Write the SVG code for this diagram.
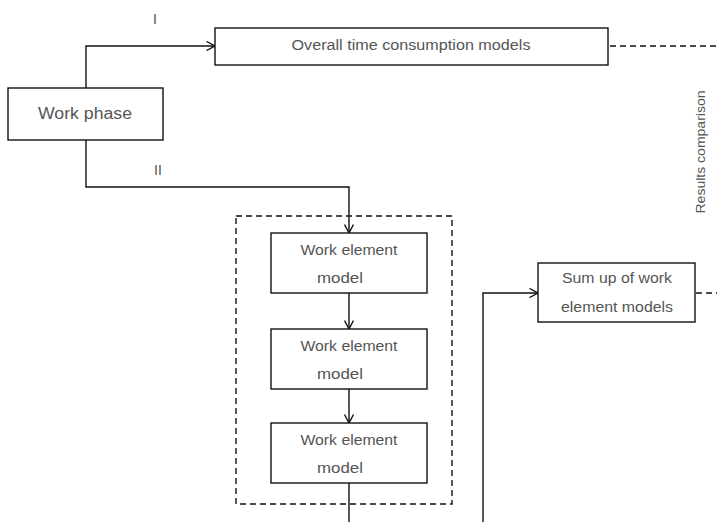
<svg xmlns="http://www.w3.org/2000/svg" width="717" height="522" viewBox="0 0 717 522">
<style>
.box{fill:#fff;stroke:#111;stroke-width:1.4}
.t{font-family:"Liberation Sans",Arial,sans-serif;fill:#555;text-anchor:middle}
.ln{fill:none;stroke:#111;stroke-width:1.4}
.ds{fill:none;stroke:#111;stroke-width:1.4;stroke-dasharray:6 4}
</style>
<defs>
<marker id="arr" viewBox="0 0 10 10" refX="9.5" refY="5" markerWidth="10" markerHeight="10" markerUnits="userSpaceOnUse" orient="auto">
<path d="M1,0.5 L9.5,5 L1,9.5" fill="none" stroke="#111" stroke-width="1.4"/>
</marker>
</defs>
<rect width="717" height="522" fill="#fff"/>
<g id="connectors">
<path class="ln" d="M86,88 V46 H215" marker-end="url(#arr)"/>
<path class="ln" d="M86,140 V187 H349 V233" marker-end="url(#arr)"/>
<path class="ln" d="M349,293 V329" marker-end="url(#arr)"/>
<path class="ln" d="M349,389 V423" marker-end="url(#arr)"/>
<path class="ln" d="M349,483 V522"/>
<path class="ln" d="M483,522 V293 H538" marker-end="url(#arr)"/>
<path class="ds" d="M610,46 H717"/>
<path class="ds" d="M696,293 H717"/>
<text class="t" x="155" y="24" font-size="14">I</text>
<text class="t" x="158" y="175" font-size="14">II</text>
<text class="t" x="0" y="0" font-size="13" transform="translate(705,152) rotate(-90)" textLength="123" lengthAdjust="spacingAndGlyphs">Results comparison</text>
</g>
<g id="group-box">
<rect class="ds" x="236" y="216" width="216" height="288"/>
</g>
<g id="work-phase">
<rect class="box" x="8" y="88" width="155" height="52"/>
<text class="t" x="85" y="119" font-size="16" textLength="94" lengthAdjust="spacingAndGlyphs">Work phase</text>
</g>
<g id="overall">
<rect class="box" x="215" y="28" width="393" height="37"/>
<text class="t" x="411" y="50" font-size="14" textLength="239" lengthAdjust="spacingAndGlyphs">Overall time consumption models</text>
</g>
<g id="element1">
<rect class="box" x="271" y="233" width="156" height="60"/>
<text class="t" x="349" y="255" font-size="14" textLength="97" lengthAdjust="spacingAndGlyphs">Work element</text>
<text class="t" x="340" y="283" font-size="14" textLength="46" lengthAdjust="spacingAndGlyphs">model</text>
</g>
<g id="element2">
<rect class="box" x="271" y="329" width="156" height="60"/>
<text class="t" x="349" y="351" font-size="14" textLength="97" lengthAdjust="spacingAndGlyphs">Work element</text>
<text class="t" x="340" y="379" font-size="14" textLength="46" lengthAdjust="spacingAndGlyphs">model</text>
</g>
<g id="element3">
<rect class="box" x="271" y="423" width="156" height="60"/>
<text class="t" x="349" y="445" font-size="14" textLength="97" lengthAdjust="spacingAndGlyphs">Work element</text>
<text class="t" x="340" y="473" font-size="14" textLength="46" lengthAdjust="spacingAndGlyphs">model</text>
</g>
<g id="sum-up">
<rect class="box" x="538" y="263" width="157" height="59"/>
<text class="t" x="617" y="283" font-size="14" textLength="110" lengthAdjust="spacingAndGlyphs">Sum up of work</text>
<text class="t" x="617" y="312" font-size="14" textLength="112" lengthAdjust="spacingAndGlyphs">element models</text>
</g>
</svg>
